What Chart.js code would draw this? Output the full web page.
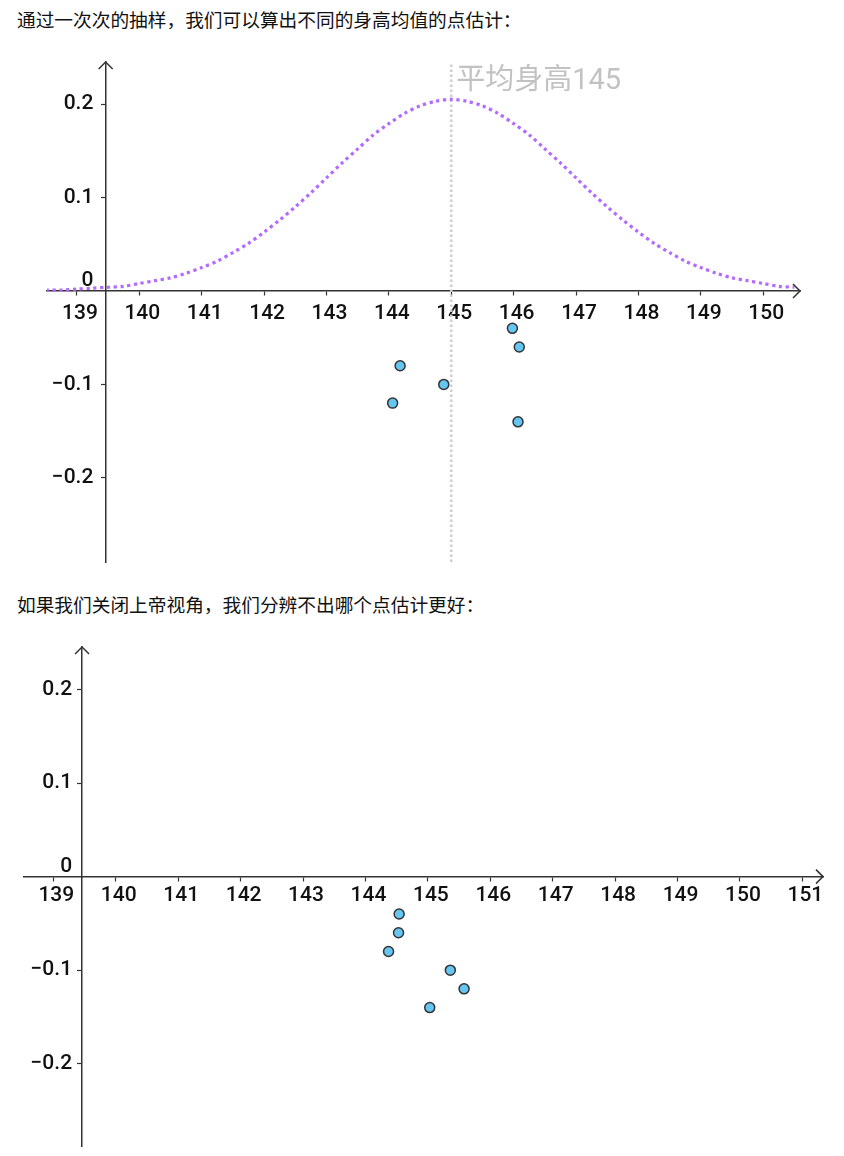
<!DOCTYPE html>
<html>
<head>
<meta charset="utf-8">
<script src="https://cdn.jsdelivr.net/npm/chart.js@4/dist/chart.umd.min.js"></script>
<style>
  html, body { margin: 0; padding: 0; background: #fff; width: 844px; height: 1156px; overflow: hidden; }
  .cap { position: absolute; left: 17px; font-family: "Noto Sans CJK SC", sans-serif; font-size: 18.7px; color: #111; line-height: 24px; white-space: nowrap; z-index: 2; }
  canvas { position: absolute; left: 0; }
</style>
</head>
<body>
<div class="cap" id="cap1" style="top:7px;">通过一次次的抽样，我们可以算出不同的身高均值的点估计：</div>
<canvas id="c1" width="844" height="550" style="top:40px;"></canvas>
<div class="cap" id="cap2" style="top:592px;">如果我们关闭上帝视角，我们分辨不出哪个点估计更好：</div>
<canvas id="c2" width="844" height="560" style="top:620px;"></canvas>
<script>
// ---- data ----
const xTicks = [139, 140, 141, 142, 143, 144, 145, 146, 147, 148, 149, 150];
const xTicks2 = [139, 140, 141, 142, 143, 144, 145, 146, 147, 148, 149, 150, 151];
const yTicks = [-0.2, -0.1, 0.1, 0.2];
const yTickLabels = ['\u22120.2', '\u22120.1', '0.1', '0.2'];
const originLabel = '0';

const curveX = [138.5, 138.75, 139, 139.25, 139.5, 139.75, 140, 140.25, 140.5, 140.75,
  141, 141.25, 141.5, 141.75, 142, 142.25, 142.5, 142.75, 143, 143.25, 143.5, 143.75,
  144, 144.25, 144.5, 144.75, 145, 145.25, 145.5, 145.75, 146, 146.25, 146.5, 146.75,
  147, 147.25, 147.5, 147.75, 148, 148.25, 148.5, 148.75, 149, 149.25, 149.5, 149.75,
  150, 150.25, 150.5];
const curveY = [0.001, 0.001, 0.002, 0.003, 0.004, 0.005, 0.008, 0.011, 0.014, 0.019,
  0.025, 0.032, 0.041, 0.051, 0.063, 0.076, 0.090, 0.105, 0.121, 0.137, 0.152, 0.167,
  0.179, 0.190, 0.198, 0.203, 0.205, 0.203, 0.198, 0.190, 0.179, 0.167, 0.152, 0.137,
  0.121, 0.105, 0.090, 0.076, 0.063, 0.051, 0.041, 0.032, 0.025, 0.019, 0.014, 0.011,
  0.008, 0.005, 0.004];

const meanValue = 145;
const meanLabel = '平均身高145';

const sample1X = [145.98, 146.09, 144.18, 144.88, 144.06, 146.07];
const sample1Y = [-0.04, -0.06, -0.08, -0.10, -0.12, -0.14];
const sample2X = [144.54, 144.53, 144.37, 145.36, 145.58, 145.03];
const sample2Y = [-0.04, -0.06, -0.08, -0.10, -0.12, -0.14];

const yAxisAt = 139.46;
const range1 = { xMin: 138.52, xMax: 150.59, yMin: -0.29, yMax: 0.245 };
const range2 = { xMin: 138.53, xMax: 151.33, yMin: -0.288, yMax: 0.2455 };

// ---- styles ----
const AXIS = '#333';
const TICKFONT = { family: 'Roboto, "DejaVu Sans", sans-serif', size: 21, weight: '500' };
const TICKCOLOR = '#111';
const POINT_FILL = '#66c6f2';
const POINT_BORDER = '#333';

const zip = (xs, ys) => xs.map((x, i) => ({ x, y: ys[i] }));

const arrowPlugin = {
  id: 'arrows',
  afterDraw(chart) {
    const { ctx, chartArea, scales } = chart;
    const y0 = scales.y.getPixelForValue(0);
    const xA = scales.x.getPixelForValue(yAxisAt);
    ctx.save();
    ctx.strokeStyle = AXIS;
    ctx.lineWidth = 1.5;
    ctx.beginPath();
    ctx.moveTo(chartArea.right - 7, y0 - 7);
    ctx.lineTo(chartArea.right, y0);
    ctx.lineTo(chartArea.right - 7, y0 + 7);
    ctx.moveTo(xA - 7, chartArea.top + 7);
    ctx.lineTo(xA, chartArea.top);
    ctx.lineTo(xA + 7, chartArea.top + 7);
    ctx.stroke();
    ctx.restore();
  }
};

const meanLabelPlugin = {
  id: 'meanLabel',
  afterDatasetsDraw(chart, args, opts) {
    if (!opts || !opts.text) return;
    const { ctx, chartArea, scales } = chart;
    ctx.save();
    ctx.font = '29px Roboto, "Noto Sans CJK SC", sans-serif';
    ctx.fillStyle = '#c2c2c2';
    ctx.textBaseline = 'alphabetic';
    ctx.textAlign = 'left';
    ctx.fillText(opts.text, scales.x.getPixelForValue(opts.value) + 5, chartArea.top + 27);
    ctx.restore();
  }
};

function makeChart(id, range, ticksX, datasets, pad, xPad, labelGap, meanOpts) {
  const yLabelScale = (ticksArr, labelFn, offset) => ({
    type: 'linear',
    axis: 'y',
    min: range.yMin, max: range.yMax,
    position: { x: yAxisAt - labelGap },
    afterBuildTicks: (a) => { a.ticks = ticksArr.map(v => ({ value: v })); },
    ticks: { font: TICKFONT, color: TICKCOLOR, padding: 0, labelOffset: offset, autoSkip: false, callback: labelFn },
    grid: { display: false },
    border: { display: false }
  });
  return new Chart(document.getElementById(id), {
    type: 'scatter',
    data: { datasets },
    plugins: [arrowPlugin, meanLabelPlugin],
    options: {
      responsive: false,
      animation: false,
      events: [],
      layout: { padding: pad },
      plugins: { legend: { display: false }, tooltip: { enabled: false }, meanLabel: meanOpts },
      scales: {
        x: {
          type: 'linear',
          min: range.xMin, max: range.xMax,
          position: { y: 0 },
          afterBuildTicks: (a) => { a.ticks = ticksX.map(v => ({ value: v })); },
          ticks: { font: TICKFONT, color: TICKCOLOR, padding: xPad, labelOffset: 3, maxRotation: 0, autoSkip: false,
                   callback: (v) => String(v) },
          grid: { drawOnChartArea: false, drawTicks: true, tickLength: 4, tickColor: AXIS, tickWidth: 1.2 },
          border: { display: true, color: AXIS, width: 1.5 }
        },
        y: {
          type: 'linear',
          min: range.yMin, max: range.yMax,
          position: { x: yAxisAt },
          afterBuildTicks: (a) => { a.ticks = yTicks.map(v => ({ value: v })); },
          ticks: { display: false },
          grid: { drawOnChartArea: false, drawTicks: true, tickLength: 4, tickColor: AXIS, tickWidth: 1.2 },
          border: { display: true, color: AXIS, width: 1.5 }
        },
        yLab: yLabelScale(yTicks, (v) => yTickLabels[yTicks.indexOf(v)], 0),
        y0: yLabelScale([0], () => originLabel, -10)
      }
    }
  });
}

const pointStyle = (data) => ({
  data, showLine: false, pointRadius: 5, pointBorderWidth: 1.5,
  pointBackgroundColor: POINT_FILL, pointBorderColor: POINT_BORDER, order: 0
});

makeChart('c1', range1, xTicks, [
  pointStyle(zip(sample1X, sample1Y)),
  { data: zip(curveX, curveY), showLine: true, pointRadius: 0, borderColor: '#b36bff',
    borderWidth: 3.2, borderDash: [3.2, 3.6], tension: 0.3, order: 1 },
  { data: [{ x: meanValue, y: range1.yMin }, { x: meanValue, y: range1.yMax }], showLine: true,
    pointRadius: 0, borderColor: '#cfcfcf', borderWidth: 2.5, borderDash: [2.5, 2.5], order: 2 }
], { left: 47, right: 44, top: 22, bottom: 28 }, 6, 0.197, { text: meanLabel, value: meanValue });

makeChart('c2', range2, xTicks2, [
  pointStyle(zip(sample2X, sample2Y))
], { left: 24, right: 21, top: 27, bottom: 34 }, 3, 0.16, null);
</script>
</body>
</html>
